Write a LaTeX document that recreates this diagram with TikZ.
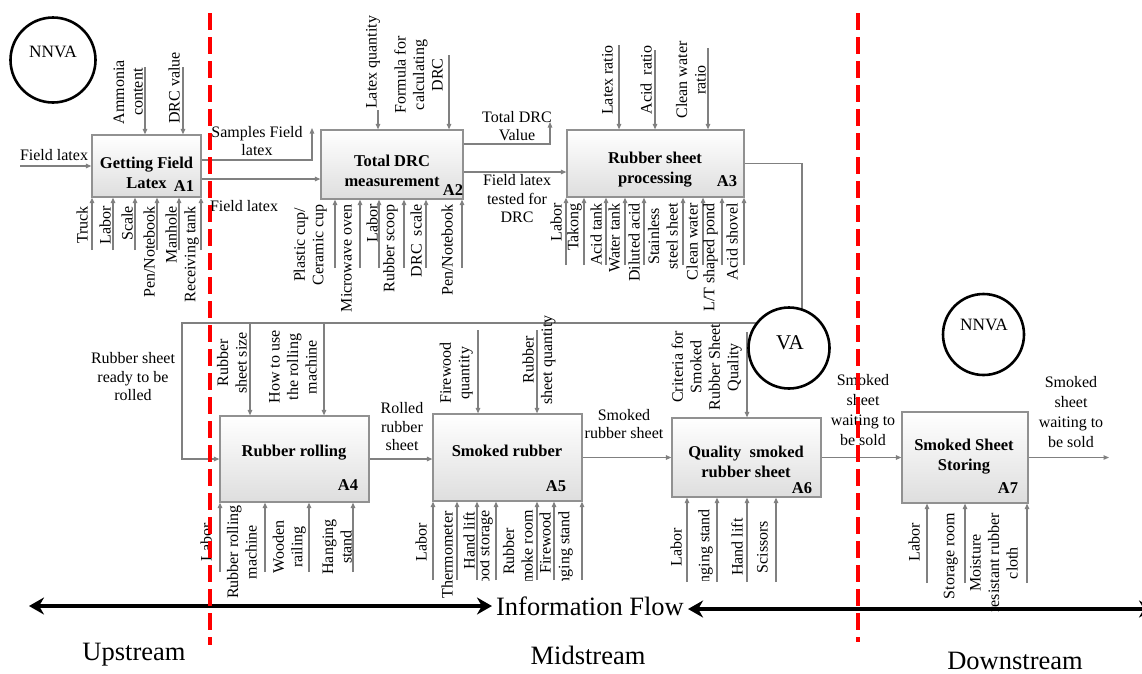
\documentclass[tikz,border=0pt]{standalone}
\usepackage{fontspec}
\setmainfont{Liberation Serif}
\usetikzlibrary{arrows.meta}
\definecolor{linegray}{RGB}{128,128,128}
\definecolor{boxgray}{RGB}{145,145,145}

\begin{document}
\begin{tikzpicture}[x=1pt, y=-1pt, font=\fontsize{16}{18.5}\selectfont,
		box/.style={draw=boxgray, line width=1.2pt, top color=white, bottom color=black!13, inner sep=0pt},
		ttl/.style={font=\fontsize{16.5}{20}\selectfont\bfseries, align=center},
		arr/.style={draw=linegray, line width=1.1pt, -{Triangle[length=5.5pt,width=4.5pt]}},
		lbl/.style={align=center, inner sep=1pt},
		vlbl/.style={rotate=90, align=center, inner sep=1pt},
		ring/.style={draw, circle, line width=2.6pt, fill=white, inner sep=0pt},
		cut/.style={draw=red, line width=3.5pt, dash pattern=on 17pt off 7pt},
		flow/.style={line width=4.5pt, {Stealth[length=15pt,width=17pt]}-{Stealth[length=15pt,width=17pt]}},
		big/.style={font=\fontsize{26.5}{30}\selectfont}]
				\useasboundingbox (0,0) rectangle (1142,673);
				% activity boxes
				\node[box, minimum width=109pt, minimum height=62pt] (A1) at (146.5,166) {};
				\node[box, minimum width=142pt, minimum height=69pt] (A2) at (392,164.5) {};
				\node[box, minimum width=177pt, minimum height=67pt] (A3) at (655.5,163.5) {};
				\node[box, minimum width=149pt, minimum height=86pt] (A4) at (294.5,459) {};
				\node[box, minimum width=149pt, minimum height=87pt] (A5) at (507.5,457.5) {};
				\node[box, minimum width=149pt, minimum height=79pt] (A6) at (746.5,457.5) {};
				\node[box, minimum width=126pt, minimum height=91pt] (A7) at (965,457.5) {};
				\node[ttl] (A1t) at (146.5,173) {Getting Field\\Latex};
				\node[ttl] (A2t) at (392,171) {Total DRC\\measurement};
				\node[ttl] (A3t) at (655,170) {Rubber sheet\\processing};
				\node[ttl] (A4t) at (294,453) {Rubber rolling};
				\node[ttl] (A5t) at (507,451) {Smoked rubber};
				\node[ttl] (A6t) at (746,462) {Quality\ \ smoked\\rubber sheet};
				\node[ttl] (A7t) at (964,457) {Smoked Sheet\\Storing};
				\node[ttl] (A1n) at (184,186) {A1};
				\node[ttl] (A2n) at (453,190) {A2};
				\node[ttl] (A3n) at (727,181) {A3};
				\node[ttl] (A4n) at (348,485) {A4};
				\node[ttl] (A5n) at (556,486) {A5};
				\node[ttl] (A6n) at (802,488) {A6};
				\node[ttl] (A7n) at (1008,488) {A7};
				% inputs and outputs
				\coordinate (in1) at (20,166);
				\coordinate (smp) at (312,128);
				\coordinate (drc) at (550,122);
				\coordinate (out7) at (1109,457.5);
				\draw[arr] (in1) -- (A1.west);
				\draw[arr] (A1.east |- 0,160) -- (312,160) -- (smp);
				\draw[arr] (A1.east |- 0,179) -- (A2.west |- 0,179);
				\draw[arr] (A2.east |- 0,144) -- (550,144) -- (drc);
				\draw[arr] (A2.east |- 0,172) -- (A3.west |- 0,172);
				\draw[arr] (A3.east) -- (802,163.5) -- (802,323) -- (182,323) -- (182,459) -- (A4.west);
				\draw[arr] (A4.east) -- (A5.west |- A4.east);
				\draw[arr] (A5.east) -- (A6.west);
				\draw[arr] (A6.east) -- (A7.west);
				\draw[arr] (A7.east) -- (out7);
				\node[lbl] (i1) at (54,155) {Field latex};
				\node[lbl] (o1a) at (257,141) {Samples Field\\latex};
				\node[lbl] (o1b) at (244,206) {Field latex};
				\node[lbl] (o2a) at (517,126) {Total DRC\\Value};
				\node[lbl] (o2b) at (517,199) {Field latex\\tested for\\DRC};
				\node[lbl] (o3) at (133,377) {Rubber sheet\\ready to be\\rolled};
				\node[lbl] (o4) at (402,427) {Rolled\\rubber\\sheet};
				\node[lbl] (o5) at (624,424) {Smoked\\rubber sheet};
				\node[lbl, font=\fontsize{16}{20.3}\selectfont] (o6) at (863,410) {Smoked\\sheet\\waiting to\\be sold};
				\node[lbl, font=\fontsize{16}{20.3}\selectfont] (o7) at (1071,412) {Smoked\\sheet\\waiting to\\be sold};
				% controls
				\draw[arr] (145,67) coordinate (c1a) -- (145,0 |- A1.north);
				\draw[arr] (183,67) coordinate (c1b) -- (183,0 |- A1.north);
				\draw[arr] (378,110) coordinate (c2a) -- (378,0 |- A2.north);
				\draw[arr] (449,55) coordinate (c2b) -- (449,0 |- A2.north);
				\draw[arr] (619,45) coordinate (c3a) -- (619,0 |- A3.north);
				\draw[arr] (655,50) coordinate (c3b) -- (655,0 |- A3.north);
				\draw[arr] (708,48) coordinate (c3c) -- (708,0 |- A3.north);
				\draw[arr] (250,323) coordinate (c4a) -- (250,0 |- A4.north);
				\draw[arr] (324,323) coordinate (c4b) -- (324,0 |- A4.north);
				\draw[arr] (478,330) coordinate (c5a) -- (478,0 |- A5.north);
				\draw[arr] (537,330) coordinate (c5b) -- (537,0 |- A5.north);
				\draw[arr] (747,332) coordinate (c6a) -- (747,0 |- A6.north);
				\node[vlbl, anchor=south] (c1at) at (144,92) {Ammonia\\content};
				\node[vlbl, anchor=south] (c1bt) at (181,88) {DRC value};
				\node[vlbl, anchor=west] (c2at) at (373,110) {Latex quantity};
				\node[vlbl, anchor=south] (c2bt) at (444,75) {Formula for\\calculating\\DRC};
				\node[vlbl, anchor=south] (c3at) at (614,80) {Latex ratio};
				\node[vlbl, anchor=south] (c3bt) at (653,80) {Acid\ \ ratio};
				\node[vlbl, anchor=south] (c3ct) at (707,80) {Clean water\\ratio};
				\node[vlbl, anchor=south] (c4at) at (248,363) {Rubber\\sheet size};
				\node[vlbl, anchor=south] (c4bt) at (318,367) {How to use\\the rolling\\machine};
				\node[vlbl, anchor=south] (c5at) at (474,373) {Firewood\\quantity};
				\node[vlbl] (c5bt) at (539,360) {Rubber\\sheet quantity};
				\node[vlbl, anchor=south] (c6at) at (743,367) {Criteria for\\Smoked\\Rubber Sheet\\Quality};
				% mechanisms
				\foreach \x in {92,113,135,157,179,201}
					\draw[arr] (\x,250) coordinate (A1m\x) -- (\x,0 |- A1.south);
				\foreach \x in {335,360,379,404,426,462}
					\draw[arr] (\x,268) coordinate (A2m\x) -- (\x,0 |- A2.south);
				\foreach \x in {566,584,606,625,644,683,703,722,744}
					\draw[arr] (\x,265) coordinate (A3m\x) -- (\x,0 |- A3.south);
				\foreach \x in {220,265,309,353}
					\draw[arr] (\x,572) coordinate (A4m\x) -- (\x,0 |- A4.south);
				\foreach \x in {433,457,477,496,537,554,582}
					\draw[arr] (\x,580) coordinate (A5m\x) -- (\x,0 |- A5.south);
				\foreach \x in {687,717,747,776}
					\draw[arr] (\x,582) coordinate (A6m\x) -- (\x,0 |- A6.south);
				\foreach \x in {927,965,1027}
					\draw[arr] (\x,583) coordinate (A7m\x) -- (\x,0 |- A7.south);
				\foreach \x/\t in {89/Truck, 112/Labor, 134/Scale, 156/{Pen\slash Notebook}, 178/Manhole, 200/Receiving tank}
					\node[vlbl, anchor=south east] (A1l\x) at (\x,205) {\t};
				\foreach \x/\t in {328/{Plastic cup\slash\\Ceramic cup}, 353/Microwave oven, 379/Labor, 399/Rubber scoop, 423/{DRC\ \ scale}, 454/{Pen\slash Notebook}}
					\node[vlbl, anchor=south east] (A2l\x) at (\x,203) {\t};
				\foreach \x/\t in {563/Labor, 583/Takong, 603/Acid tank, 621/Water tank, 641/Diluted acid, 679/{Stainless\\steel sheet}, 699/Clean water, 719/{L\slash T shaped pond}, 739/Acid shovel}
					\node[vlbl, anchor=south east] (A3l\x) at (\x,202) {\t};
				\node[vlbl, anchor=south] (A4l1) at (213,542) {Labor};
				\node[vlbl, anchor=south] (A4l2) at (258,552) {Rubber rolling\\machine};
				\node[vlbl, anchor=south] (A4l3) at (307,547) {Wooden\\railing};
				\node[vlbl, anchor=south] (A4l4) at (353,547) {Hanging\\stand};
				\node[vlbl, anchor=south] (A5l1) at (428,542) {Labor};
				\node[vlbl, anchor=south east] (A5l2) at (454,510) {Thermometer};
				\node[vlbl, anchor=south east] (A5l3) at (476,511) {Hand lift};
				\node[vlbl, anchor=south east] (A5l6) at (552,511) {Firewood};
				\node[vlbl, anchor=south] (A6l1) at (683,547) {Labor};
				\node[vlbl, anchor=south] (A6l3) at (744,547) {Hand lift};
				\node[vlbl, anchor=south] (A6l4) at (769,547) {Scissors};
				\node[vlbl, anchor=south] (A7l1) at (921,542) {Labor};
				\node[vlbl, anchor=south] (A7l2) at (959,556) {Storage room};
				\node[vlbl, anchor=south] (A7l3) at (1019,563) {Moisture\\resistant rubber\\cloth};
				\begin{scope}
					\clip (480,500) rectangle (720,580.5);
					\node[vlbl, anchor=south east] (A5l4) at (494,509) {Firewood storage};
					\node[vlbl, anchor=south east] (A5l5) at (534,509) {Rubber\\Smoke room};
					\node[vlbl, anchor=south east] (A5l7) at (574,510) {Hanging stand};
					\node[vlbl, anchor=south east] (A6l2) at (714,508) {Hanging stand};
				\end{scope}
				% value circles
				\node[ring, minimum size=85pt] (nnva1) at (53,60) {};
				\node[font=\fontsize{17.3}{20}\selectfont] (nnva1t) at (53,52) {NNVA};
				\node[ring, minimum size=81pt] (va) at (789,348) {};
				\node[font=\fontsize{21}{24}\selectfont] (vat) at (790,343) {VA};
				\node[ring, minimum size=81pt] (nnva2) at (983.5,334.5) {};
				\node[font=\fontsize{17.3}{20}\selectfont] (nnva2t) at (984,325) {NNVA};
				% information flow and stream borders
				\coordinate (flowL) at (29,606);
				\coordinate (flowR) at (1154,609);
				\node[big, inner sep=4pt] (info) at (590,606) {Information Flow};
				\draw[flow] (flowL) -- (info.west);
				\draw[flow] (info.east |- flowR) -- (flowR);
				\node[big] (up) at (134,655) {Upstream};
				\node[big] (mid) at (588,655) {Midstream};
				\node[big] (down) at (1015,661) {Downstream};
				\draw[cut] (210,13) -- (210,645);
				\draw[cut] (858,13) -- (858,642);
			\end{tikzpicture}
\end{document}
